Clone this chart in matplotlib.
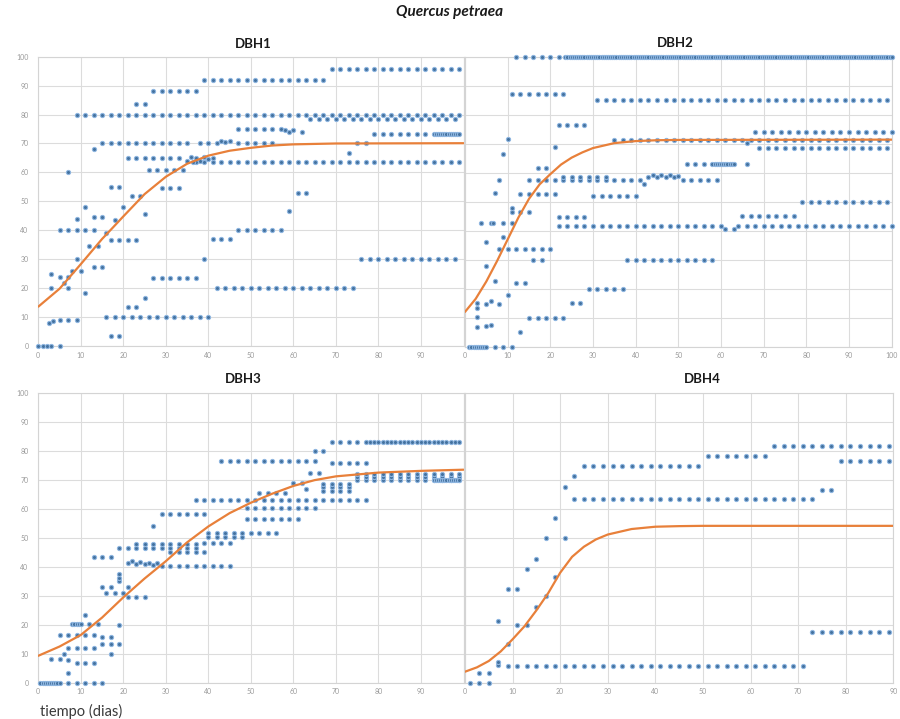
import numpy as np
import matplotlib
matplotlib.use("Agg")
import matplotlib.pyplot as plt

plt.rcParams['font.family'] = ['Lato', 'DejaVu Sans']

# ---------------- data ----------------
# horizontal runs of repeated measurements: (value, first day, last day, day step)
dbh1_runs = [(0, 0, 3, 1), (10, 16, 40, 2), (20, 42, 74, 2), (23.4, 27, 37, 2), (30, 76, 98, 2),
             (36.6, 17, 23, 2), (37, 41, 45, 2), (40, 5, 13, 2), (40, 47, 57, 2), (54.5, 29, 33, 2),
             (61, 26, 34, 2), (65, 21, 33, 2), (63.5, 37, 99, 2), (70, 15, 35, 2), (70, 47, 55, 2),
             (73.3, 79, 91, 2), (73.3, 93, 99, 0.5), (75, 47, 57, 2), (78.3, 64, 98, 2), (80, 9, 99, 2),
             (88, 27, 37, 2), (92, 39, 67, 2), (95.7, 69, 99, 2)]
dbh1_pts_x = [5, 17, 19, 2.6, 3.5, 5, 7, 9, 21, 23, 25, 11, 3, 7, 6, 3, 5, 7, 8, 10, 9, 39, 13, 15,
              12, 14, 16, 18, 13, 15, 9, 25, 11, 20, 59, 22, 24, 61, 63, 17, 19, 7, 13, 73, 75, 77,
              58, 59, 60, 62, 23, 25, 35, 36, 36.5, 37, 38, 39, 40, 41, 38, 40, 42, 43, 44, 45]
dbh1_pts_y = [0, 3.5, 3.5, 7.8, 8.8, 9, 9, 9, 13.4, 13.4, 16.5, 18.2, 20, 20, 21.7, 25, 24, 24, 26, 26,
              30, 30, 27.4, 27.4, 34.6, 34.6, 39, 43.5, 44.7, 44.7, 44, 45.5, 48, 48, 46.7, 52, 52,
              53, 53, 55, 55, 60, 68, 66.6, 70, 70, 74.5, 74, 74.5, 74, 83.8, 83.8, 64, 65.5, 63.5,
              65, 64, 65.5, 64.5, 65, 70, 70, 70.3, 70.8, 70.5, 70.8]
dbh1_fit_x = [0, 5, 10, 15, 17, 20, 25, 30, 35, 40, 45, 50, 55, 60, 70, 100]
dbh1_fit_y = [13.6, 19.8, 28.3, 37, 40.1, 44.8, 52.5, 58.5, 63, 65.8, 67.5, 68.5, 69.3, 69.7, 70, 70.1]

dbh2_runs = [(0, 1, 5, 0.5), (10, 15, 23, 2), (20, 29, 37, 2), (30, 38, 58, 2), (33.6, 8, 20, 2),
             (41.6, 22, 60, 2), (41.6, 64, 100, 2), (44.8, 22, 28, 2), (45, 65, 77, 2), (50, 79, 99, 2),
             (52, 30, 40, 2), (52.5, 13, 21, 2), (57.5, 15, 41, 2), (58.5, 23, 33, 2), (57.5, 51, 59, 2),
             (63, 52, 58, 2), (63, 58.5, 63, 0.5), (68.5, 69, 99, 2), (71.4, 35, 99, 2), (74, 68, 100, 2),
             (76.5, 22, 28, 2), (85, 31, 99, 2), (87, 11, 23, 2), (100, 12, 22, 2), (100, 23.5, 100, 0.5)]
dbh2_pts_x = [7, 9, 11, 13, 2.7, 5, 6, 2.7, 2.7, 2.7, 5, 6, 8, 25, 27, 10, 12, 14, 7, 5, 16, 18, 5, 9,
              3.7, 6, 6.5, 9, 11, 11, 11, 13, 15, 61, 63, 7, 42, 43, 44, 45, 46, 47, 48, 49, 50, 8,
              17, 19, 66, 9, 21, 66, 10]
dbh2_pts_y = [0, 0, 0, 5, 6.9, 7.2, 7.5, 10.3, 15, 13.5, 14.6, 15.7, 14.6, 15, 15, 18, 22, 22, 22.5,
              28, 30, 30, 36, 37.7, 42.8, 42.8, 42.8, 42.8, 42.8, 46.3, 47.7, 46.3, 46.3, 40.5, 40.5,
              53, 56, 58.5, 59.3, 58.5, 59.3, 58.5, 59.3, 58.5, 59, 57.5, 61.5, 61.5, 63, 66.5, 69,
              70.2, 71.5]
dbh2_fit_x = [0, 2.5, 5, 7.5, 10, 12.5, 15, 17.5, 20, 22.5, 25, 27.5, 30, 35, 40, 45, 50, 100]
dbh2_fit_y = [12, 16.5, 22.5, 29.5, 37, 44.5, 51, 56, 59.5, 62.8, 65.2, 67, 68.5, 70.2, 70.9, 71.2, 71.3, 71.4]

dbh3_runs = [(0, 0.5, 5, 0.5), (0, 7, 15, 2), (6.7, 9, 13, 2), (8.2, 3, 5, 2), (11.9, 7, 13, 2),
             (13.3, 15, 19, 2), (15.9, 15, 17, 2), (16.5, 5, 13, 2), (20.3, 8, 10, 0.5), (20.3, 12, 14, 2),
             (29.7, 21, 25, 2), (31.1, 16, 20, 2), (33.2, 15, 17, 2), (40.3, 29, 45, 2), (43.5, 13, 17, 2),
             (45.3, 31, 39, 2), (46.5, 19, 37, 2), (48, 23, 37, 2), (48.2, 39, 45, 2), (50.2, 40, 48, 2),
             (51.8, 40, 56, 2), (56.4, 49, 61, 2), (58.3, 29, 39, 2), (60.3, 49, 65, 2), (63, 37, 77, 2),
             (65.6, 52, 58, 2), (70, 75, 99, 2), (71, 75, 99, 2), (72, 75, 99, 2), (70, 93, 99, 0.5),
             (75.8, 69, 77, 2), (76.5, 43, 65, 2), (83.1, 69, 75, 2), (83, 77, 99, 1)]
dbh3_pts_x = [7, 7, 6, 17, 19, 11, 19, 19, 19, 21, 21, 22, 23, 24, 25, 26, 27, 28, 27, 60, 62, 64, 66,
              65, 67, 63, 67, 69, 71, 73, 67, 69, 71, 73, 67, 69, 71, 73]
dbh3_pts_y = [3.2, 7.8, 9.9, 9.9, 19.8, 23.3, 35, 36.2, 37.4, 33.2, 41.5, 42, 41, 41.8, 41, 41.5, 40.8,
              41.5, 54, 68.9, 68.9, 72.4, 72.4, 80, 80, 66.9, 67.5, 67.5, 67.5, 67.5, 68.8, 68.8, 68.8,
              68.8, 66.2, 66.2, 66.2, 66.2]
dbh3_fit_x = [0, 5, 10, 15, 20, 25, 30, 35, 40, 45, 50, 55, 60, 65, 70, 80, 90, 100]
dbh3_fit_y = [9.3, 12.5, 16.5, 22.5, 29.5, 36, 42, 48.5, 54, 58.6, 62.2, 65.3, 68, 70, 71.3, 72.6, 73.2, 73.6]

dbh4_runs = [(5.8, 9, 71, 2), (17.6, 73, 89, 2), (63.4, 23, 73, 2), (74.9, 25, 49, 2),
             (78.5, 51, 63, 2), (81.9, 65, 89, 2), (76.7, 79, 89, 2)]
dbh4_pts_x = [1, 3, 5, 3, 5, 7, 7, 9, 11, 13, 7, 15, 17, 9, 11, 19, 13, 15, 17, 21, 19, 21, 23, 75, 77]
dbh4_pts_y = [0, 0, 0, 3.5, 3.5, 6.1, 7, 13.4, 20, 20, 21.4, 26.3, 30, 32.3, 32.3, 36.4, 39.3, 42.7,
              49.9, 49.9, 56.8, 67.7, 71.4, 66.6, 66.6]
dbh4_fit_x = [0, 2.5, 5, 7.5, 10, 12.5, 15, 17.5, 20, 22.5, 25, 27.5, 30, 35, 40, 45, 50, 90]
dbh4_fit_y = [3.8, 5.3, 7.5, 10.8, 15, 19.5, 25, 31, 38, 43.5, 47, 49.5, 51.2, 53.1, 53.9, 54.1, 54.2, 54.2]

panel_titles = ["DBH1", "DBH2", "DBH3", "DBH4"]
x_limits = [100, 100, 100, 90]
main_title = "Quercus petraea"
x_label = "tiempo (dias)"

# ---------------- drawing ----------------
W, H = 900, 719
fig = plt.figure(figsize=(W / 100, H / 100), dpi=100)
fig.patch.set_facecolor("white")


def frac_rect(l, r, t, b):
    return [l / W, 1 - b / H, (r - l) / W, (b - t) / H]


rects = [frac_rect(38.3, 463.5, 56.7, 346.0),
         frac_rect(465.0, 891.7, 56.7, 346.7),
         frac_rect(38.3, 463.5, 393.3, 682.7),
         frac_rect(465.0, 893.3, 393.3, 682.7)]

data = [(dbh1_runs, dbh1_pts_x, dbh1_pts_y, dbh1_fit_x, dbh1_fit_y),
        (dbh2_runs, dbh2_pts_x, dbh2_pts_y, dbh2_fit_x, dbh2_fit_y),
        (dbh3_runs, dbh3_pts_x, dbh3_pts_y, dbh3_fit_x, dbh3_fit_y),
        (dbh4_runs, dbh4_pts_x, dbh4_pts_y, dbh4_fit_x, dbh4_fit_y)]

title_pos = [(253, 44), (675, 43), (243, 379), (702, 379)]

for i, (rect, (runs, px, py, fx, fy)) in enumerate(zip(rects, data)):
    ax = fig.add_axes(rect)
    xs, ys = [], []
    for val, x0, x1, step in runs:
        rx = np.arange(x0, x1 + step / 2, step)
        xs.extend(rx)
        ys.extend([val] * len(rx))
    xs.extend(px)
    ys.extend(py)
    ax.scatter(xs, ys, s=9, facecolor="#44729f", edgecolor="#8fb6e0", linewidth=0.8,
               zorder=3, clip_on=False)
    ax.plot(fx, fy, color="#e8803a", lw=1.6, zorder=4, solid_capstyle="round")
    ax.set_xlim(0, x_limits[i])
    ax.set_ylim(0, 100)
    ax.set_xticks(np.arange(0, x_limits[i] + 1, 10))
    ax.set_yticks(np.arange(0, 101, 10))
    ax.grid(True, color="#dcdcdc", lw=0.8)
    ax.set_axisbelow(True)
    for s in ax.spines.values():
        s.set_color("#d4d4d4")
        s.set_linewidth(0.8)
    ax.tick_params(length=0, labelsize=5, labelcolor="#9a9a9a", pad=4)
    if i in (1, 3):
        ax.tick_params(labelleft=False)
    else:
        ax.tick_params(axis='y', pad=7)
    if i == 0:
        labels = [str(v) for v in range(0, 91, 10)] + [""]
        ax.set_xticklabels(labels)
    if i == 2:
        labels = [str(v) for v in range(0, 91, 10)] + [""]
        ax.set_xticklabels(labels)
    fig.text(title_pos[i][0] / W, 1 - title_pos[i][1] / H, panel_titles[i],
             ha="center", va="center", fontsize=9.5, fontweight="bold", color="#1a1a1a")

fig.text(450 / W, 1 - 12 / H, main_title, ha="center", va="center",
         fontsize=11, fontweight="bold", style="italic", color="#1a1a1a")
fig.text(40 / W, 1 - 711 / H, x_label, ha="left", va="center", fontsize=10.5, color="#3a3a3a")

fig.savefig("out.png", dpi=100, facecolor="white")
